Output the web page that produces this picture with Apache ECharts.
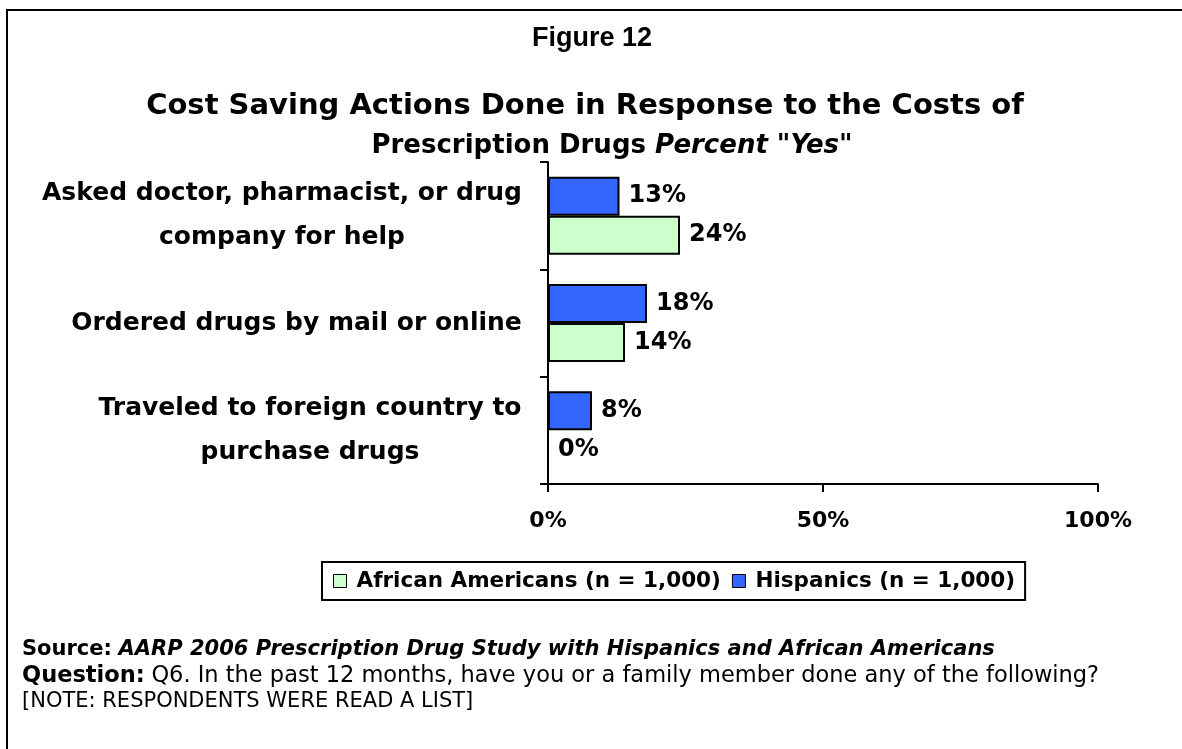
<!DOCTYPE html>
<html>
<head>
<meta charset="utf-8">
<script src="https://cdn.jsdelivr.net/npm/echarts@6/dist/echarts.min.js"></script>
<style>
  html, body { margin: 0; padding: 0; background: #fff; }
  #chart { width: 1182px; height: 749px; }
</style>
</head>
<body>
<div id="chart"></div>
<script>
// Survey actions (top to bottom) and percent answering "Yes"
var categories = [
  'Asked doctor, pharmacist, or drug\ncompany for help',
  'Ordered drugs by mail or online',
  'Traveled to foreign country to\npurchase drugs'
];
var hispanics = [13, 18, 8];
var africanAmericans = [24, 14, 0];
var seriesNames = ['African Americans (n = 1,000)', 'Hispanics (n = 1,000)'];

var FONT = '"DejaVu Sans", Verdana, sans-serif';
var HEAD_FONT = '"Liberation Sans", Arial, sans-serif';
var CAT_SIZE = 25;

// width of the widest line of each category label, so lines can be centred in their block
var measureCtx = document.createElement('canvas').getContext('2d');
measureCtx.font = 'bold ' + CAT_SIZE + 'px ' + FONT;
var catRich = {};
categories.forEach(function (c, i) {
  var w = 0;
  c.split('\n').forEach(function (line) { w = Math.max(w, measureCtx.measureText(line).width); });
  catRich['c' + i] = { width: Math.ceil(w) + 2, align: 'center', fontSize: CAT_SIZE, fontWeight: 'bold', fontFamily: FONT, color: '#000', lineHeight: 44 };
});

var valueLabel = { show: true, position: 'right', distance: 9, formatter: '{c}%',
  fontFamily: FONT, fontWeight: 'bold', fontSize: 24, color: '#000' };

var chart = echarts.init(document.getElementById('chart'), null, { renderer: 'canvas' });

chart.setOption({
  animation: false,
  backgroundColor: '#fff',
  grid: { left: 548, right: 84, top: 162, bottom: 265, containLabel: false },
  legend: {
    data: seriesNames,
    left: 322, top: 562,
    orient: 'horizontal',
    itemWidth: 13, itemHeight: 13, itemGap: 11,
    padding: [8, 10, 8, 11],
    borderColor: '#000', borderWidth: 2,
    icon: 'rect',
    itemStyle: { borderColor: '#000', borderWidth: 1 },
    textStyle: { fontFamily: FONT, fontWeight: 'bold', fontSize: 21.5, color: '#000', padding: [0, 0, 0, 5] }
  },
  xAxis: {
    type: 'value', min: 0, max: 100, interval: 50,
    axisLine: { show: true, lineStyle: { color: '#000', width: 2 } },
    axisTick: { show: true, length: 8, lineStyle: { color: '#000', width: 2 } },
    splitLine: { show: false },
    axisLabel: {
      margin: 26, formatter: '{value}%',
      fontFamily: FONT, fontWeight: 'bold', fontSize: 22, color: '#000'
    }
  },
  yAxis: {
    type: 'category', data: categories, inverse: true,
    axisLine: { show: true, lineStyle: { color: '#000', width: 2 } },
    axisTick: { show: true, length: 8, lineStyle: { color: '#000', width: 2 } },
    axisLabel: {
      margin: 25,
      formatter: function (value, idx) {
        return value.split('\n').map(function (l) { return '{c' + idx + '|' + l + '}'; }).join('\n');
      },
      rich: catRich
    }
  },
  series: [
    {
      name: seriesNames[1], type: 'bar', data: hispanics,
      barWidth: 39, barGap: '0%',
      itemStyle: { color: '#3366FF', borderColor: '#000', borderWidth: 2 },
      label: valueLabel
    },
    {
      name: seriesNames[0], type: 'bar', data: africanAmericans,
      barWidth: 39, barGap: '0%',
      itemStyle: { color: '#CCFFCC', borderColor: '#000', borderWidth: 2 },
      label: valueLabel
    }
  ],
  graphic: [
    { type: 'rect', shape: { x: 7, y: 10, width: 1200, height: 760 }, style: { fill: null, stroke: '#000', lineWidth: 2 }, silent: true, z: -1 },
    { type: 'text', x: 592, y: 39, style: { text: 'Figure 12', textAlign: 'center', textVerticalAlign: 'middle', font: 'bold 27px ' + HEAD_FONT, fill: '#000' } },
    { type: 'text', x: 585, y: 106, style: { text: 'Cost Saving Actions Done in Response to the Costs of', textAlign: 'center', textVerticalAlign: 'middle', font: 'bold 29px ' + FONT, fill: '#000' } },
    { type: 'text', x: 612, y: 146, style: {
      text: '{b|Prescription Drugs }{bi|Percent "Yes"}', textAlign: 'center', textVerticalAlign: 'middle',
      rich: {
        b: { fontFamily: FONT, fontWeight: 'bold', fontSize: 26, fill: '#000' },
        bi: { fontFamily: FONT, fontWeight: 'bold', fontStyle: 'italic', fontSize: 26, fill: '#000' }
      } } },
    { type: 'text', x: 22, y: 650, style: {
      text: '{b|Source:}  {bi|AARP 2006 Prescription Drug Study with Hispanics and African Americans}', textAlign: 'left', textVerticalAlign: 'middle',
      rich: {
        b: { fontFamily: FONT, fontWeight: 'bold', fontSize: 21, fill: '#000' },
        bi: { fontFamily: FONT, fontWeight: 'bold', fontStyle: 'italic', fontSize: 21, fill: '#000' }
      } } },
    { type: 'text', x: 22, y: 676, style: {
      text: '{b|Question:}  {r|Q6. In the past 12 months, have you or a family member done any of the following?}', textAlign: 'left', textVerticalAlign: 'middle',
      rich: {
        b: { fontFamily: FONT, fontWeight: 'bold', fontSize: 22.5, fill: '#000' },
        r: { fontFamily: FONT, fontSize: 22.5, fill: '#000' }
      } } },
    { type: 'text', x: 22, y: 702, style: { text: '[NOTE: RESPONDENTS WERE READ A LIST]', textAlign: 'left', textVerticalAlign: 'middle', font: '21px ' + FONT, fill: '#000' } }
  ]
});
</script>
</body>
</html>
